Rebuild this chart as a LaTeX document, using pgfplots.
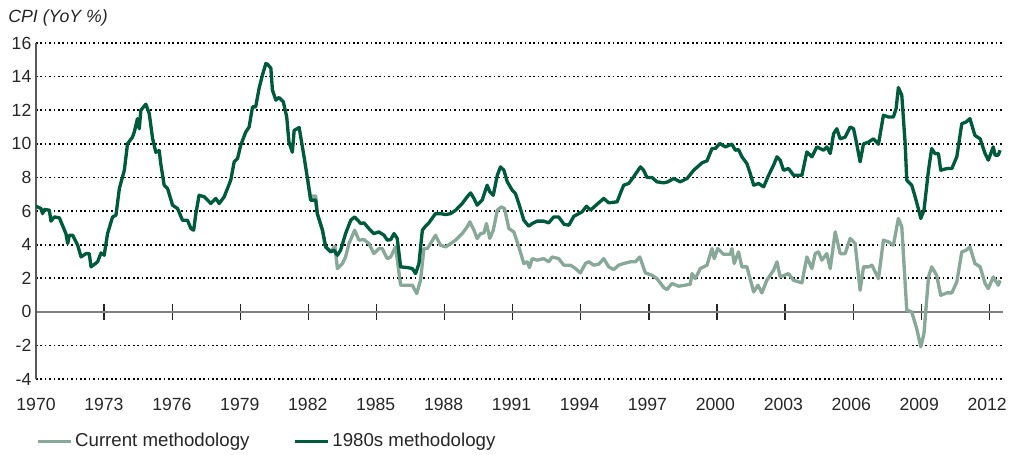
\documentclass[border=0pt]{standalone}
\usepackage{pgfplots}
\pgfplotsset{compat=1.18}
\usepackage{fontspec}
\setmainfont{Liberation Sans}
\definecolor{darkgreen}{HTML}{005A3C}
\definecolor{lightgreen}{HTML}{88A89A}

\begin{document}
\begin{tikzpicture}
\useasboundingbox (-27pt,-56.25pt) rectangle (735.5pt,284.25pt);
% zero line with crossing ticks
\begin{axis}[
  at={(0,0)}, anchor=south west, scale only axis,
  width=725pt, height=252pt,
  xmin=1970, xmax=2012.6, ymin=-4, ymax=16,
  axis x line=middle, axis y line=none,
  x axis line style={-, draw=black!50, line width=1.3pt},
  xtick={1973,1976,...,2012}, xticklabels={},
  tick align=center, major tick length=11.5pt,
  xtick style={draw=black!85, line width=1pt},
]
\end{axis}
\begin{axis}[
  at={(0,0)}, anchor=south west, scale only axis,
  width=725pt, height=252pt,
  xmin=1970, xmax=2012.7, ymin=-4, ymax=16,
  axis x line*=bottom, axis y line*=left,
  x axis line style={draw=none},
  y axis line style={-, draw=black!65, line width=0.9pt},
  xtick={1970,1973,...,2012},
  ytick={-4,-2,2,4,6,8,10,12,14,16},
  extra y ticks={0}, extra y tick style={grid=none},
  tick style={draw=none},
  ymajorgrids,
  grid style={black, line width=1.25pt, dash pattern=on 1.25pt off 2.05pt},
  /pgf/number format/assume math mode=true,
  /pgf/number format/1000 sep={},
  ticklabel style={font=\fontsize{13.2}{15}\selectfont, text=black!85},
  xticklabel style={yshift=-10.5pt},
  legend columns=2,
  legend style={at={(0,-0.1845)}, anchor=west, draw=none, fill=none,
    inner sep=0pt, font=\fontsize{14}{16}\selectfont, text=black!85,
    /tikz/every even column/.append style={column sep=31pt}},
  legend cell align=left,
  legend image code/.code={\draw[#1, line width=2.4pt] (0pt,0pt) -- (24.75pt,0pt);},
]
\addplot[lightgreen, line width=2.5pt, line join=round] coordinates {
(1981.98,8.0) (1982.13,6.65) (1982.2,6.9) (1982.35,6.9) (1982.42,5.85) (1982.65,4.86)
(1982.79,3.87) (1983.01,3.6) (1983.2,3.9) (1983.31,2.58) (1983.53,2.88) (1983.67,3.27)
(1983.82,4.07) (1984.07,4.86) (1984.26,4.27) (1984.48,4.3) (1984.70,4.07) (1984.92,3.47)
(1985.14,3.77) (1985.29,3.77) (1985.51,3.17) (1985.66,3.27) (1985.88,3.87) (1986.10,1.59)
(1986.39,1.59) (1986.62,1.59) (1986.81,1.09) (1986.98,1.88) (1987.13,3.77) (1987.28,3.77)
(1987.42,4.07) (1987.64,4.56) (1987.86,3.97) (1988.09,3.87) (1988.31,4.07) (1988.53,4.27)
(1988.82,4.66) (1989.04,5.06) (1989.16,5.36) (1989.34,4.86) (1989.48,4.37) (1989.63,4.66)
(1989.78,4.7) (1989.89,5.26) (1990.04,4.37) (1990.19,4.86) (1990.37,6.05) (1990.54,6.25)
(1990.69,6.15) (1990.88,4.96) (1991.10,4.76) (1991.32,3.87) (1991.54,2.88) (1991.69,2.98)
(1991.79,2.64) (1991.91,3.17) (1992.13,3.08) (1992.42,3.17) (1992.64,2.98) (1992.79,3.27)
(1993.08,3.17) (1993.31,2.78) (1993.60,2.78) (1993.82,2.58) (1994.04,2.32) (1994.26,2.88)
(1994.41,2.98) (1994.63,2.78) (1994.85,2.84) (1995.07,3.17) (1995.29,2.68) (1995.51,2.52)
(1995.73,2.78) (1995.95,2.88) (1996.25,2.98) (1996.47,2.98) (1996.66,3.27) (1996.91,2.32)
(1997.20,2.18) (1997.42,1.98) (1997.72,1.45) (1997.86,1.33) (1998.08,1.69) (1998.38,1.53)
(1998.67,1.59) (1998.89,1.65) (1998.97,2.28) (1999.11,1.98) (1999.33,2.58) (1999.63,2.78)
(1999.85,3.77) (1999.95,3.17) (2000.10,3.77) (2000.36,3.43) (2000.66,3.43) (2000.73,3.77)
(2000.83,2.88) (2001.02,3.57) (2001.17,2.68) (2001.39,2.68) (2001.69,1.19) (2001.88,1.59)
(2002.05,1.13) (2002.27,1.88) (2002.57,2.48) (2002.72,2.98) (2002.86,2.08) (2003.23,2.28)
(2003.45,1.88) (2003.82,1.73) (2004.04,3.27) (2004.26,2.58) (2004.41,3.47) (2004.55,3.57)
(2004.70,3.08) (2004.92,3.47) (2005.07,2.58) (2005.29,4.76) (2005.51,3.47) (2005.73,3.47)
(2005.95,4.37) (2006.17,4.07) (2006.39,1.29) (2006.54,2.68) (2006.76,2.68) (2006.91,2.78)
(2007.20,1.98) (2007.42,4.27) (2007.64,4.17) (2007.86,3.97) (2008.08,5.56) (2008.23,5.06)
(2008.45,0.1) (2008.67,0.0) (2008.89,-1.0) (2009.07,-2.08) (2009.21,-1.29) (2009.41,2.08)
(2009.55,2.68) (2009.77,2.18) (2009.95,0.99) (2010.22,1.13) (2010.44,1.13) (2010.66,1.79)
(2010.88,3.57) (2011.07,3.67) (2011.24,3.87) (2011.46,2.88) (2011.69,2.68) (2011.91,1.69)
(2012.05,1.39) (2012.27,2.08) (2012.49,1.59) (2012.57,1.88)
};
\addlegendentry{Current methodology}
\addplot[darkgreen, line width=2.5pt, line join=round] coordinates {
(1970.00,6.29) (1970.22,6.15) (1970.29,5.85) (1970.37,6.1) (1970.59,6.05) (1970.66,5.4)
(1970.81,5.65) (1971.03,5.6) (1971.32,4.66) (1971.40,4.07) (1971.47,4.56) (1971.62,4.56)
(1971.84,3.97) (1971.99,3.27) (1972.21,3.47) (1972.35,3.47) (1972.43,2.68) (1972.72,2.98)
(1972.87,3.51) (1973.01,3.37) (1973.16,4.66) (1973.38,5.65) (1973.53,5.75) (1973.68,7.34)
(1973.90,8.43) (1974.04,10.0) (1974.26,10.4) (1974.34,10.7) (1974.48,11.5) (1974.56,10.9)
(1974.63,12.0) (1974.85,12.36) (1975.00,11.8) (1975.15,10.3) (1975.29,9.5) (1975.44,9.6)
(1975.51,8.8) (1975.66,7.54) (1975.81,7.34) (1976.03,6.35) (1976.25,6.15) (1976.47,5.45)
(1976.69,5.45) (1976.84,4.96) (1976.96,4.86) (1977.06,5.85) (1977.20,6.94) (1977.43,6.85)
(1977.72,6.45) (1977.94,6.75) (1978.09,6.45) (1978.31,6.85) (1978.60,7.84) (1978.75,8.93)
(1978.90,9.13) (1979.04,9.92) (1979.26,10.7) (1979.41,11.0) (1979.56,12.2) (1979.70,12.2)
(1979.85,13.3) (1980.00,14.1) (1980.15,14.78) (1980.22,14.74) (1980.37,14.5) (1980.44,13.2)
(1980.59,12.6) (1980.73,12.76) (1980.92,12.5) (1981.07,11.6) (1981.17,10.1) (1981.32,9.5)
(1981.40,10.8) (1981.62,10.97) (1981.84,9.2) (1981.98,8.0) (1982.13,6.65) (1982.35,6.65)
(1982.42,5.85) (1982.65,4.86) (1982.79,3.87) (1983.01,3.57) (1983.16,3.67) (1983.31,3.37)
(1983.45,3.67) (1983.67,4.66) (1983.90,5.46) (1984.07,5.65) (1984.34,5.26) (1984.48,5.3)
(1984.70,4.96) (1984.92,4.66) (1985.14,4.76) (1985.37,4.56) (1985.51,4.27) (1985.66,4.3)
(1985.81,4.66) (1985.95,4.37) (1986.10,2.68) (1986.39,2.64) (1986.62,2.58) (1986.76,2.28)
(1986.91,2.88) (1987.06,4.86) (1987.20,5.1) (1987.35,5.3) (1987.64,5.85) (1987.86,5.85)
(1988.09,5.79) (1988.31,5.85) (1988.53,6.05) (1988.82,6.45) (1989.04,6.85) (1989.19,7.08)
(1989.34,6.75) (1989.48,6.35) (1989.70,6.65) (1989.92,7.54) (1990.04,7.14) (1990.19,6.94)
(1990.37,8.13) (1990.51,8.63) (1990.66,8.43) (1990.81,7.74) (1991.03,7.24) (1991.17,7.04)
(1991.32,6.45) (1991.54,5.46) (1991.76,5.1) (1991.91,5.26) (1992.13,5.4) (1992.42,5.4)
(1992.64,5.3) (1992.86,5.65) (1993.08,5.65) (1993.31,5.22) (1993.53,5.16) (1993.75,5.69)
(1993.97,5.85) (1994.11,5.95) (1994.31,6.29) (1994.48,6.05) (1994.78,6.41) (1995.07,6.75)
(1995.29,6.49) (1995.66,6.55) (1995.80,7.04) (1995.95,7.54) (1996.17,7.64) (1996.39,8.04)
(1996.69,8.63) (1996.83,8.43) (1996.98,8.0) (1997.20,8.0) (1997.42,7.74) (1997.72,7.68)
(1997.90,7.74) (1998.16,7.94) (1998.45,7.74) (1998.75,7.94) (1999.04,8.43) (1999.41,8.87)
(1999.63,8.99) (1999.85,9.72) (2000.00,9.72) (2000.19,10.02) (2000.44,9.82) (2000.73,9.98)
(2000.88,9.62) (2001.02,9.66) (2001.17,9.23) (2001.39,8.83) (2001.54,8.23) (2001.69,7.54)
(2001.91,7.64) (2002.13,7.44) (2002.35,8.13) (2002.57,8.73) (2002.72,9.23) (2002.86,9.03)
(2003.01,8.43) (2003.23,8.53) (2003.45,8.13) (2003.82,8.13) (2004.04,9.52) (2004.26,9.23)
(2004.48,9.82) (2004.63,9.72) (2004.77,9.62) (2004.92,9.82) (2005.07,9.42) (2005.22,10.6)
(2005.36,10.9) (2005.51,10.3) (2005.73,10.4) (2005.95,11.0) (2006.10,10.9) (2006.24,10.0)
(2006.39,8.93) (2006.54,10.0) (2006.76,10.1) (2006.98,10.3) (2007.20,9.98) (2007.42,11.7)
(2007.64,11.6) (2007.86,11.6) (2007.98,12.1) (2008.08,13.35) (2008.23,12.9) (2008.38,10.0)
(2008.45,7.84) (2008.67,7.54) (2008.82,6.85) (2008.96,6.15) (2009.07,5.56) (2009.21,6.05)
(2009.41,8.43) (2009.55,9.72) (2009.70,9.42) (2009.85,9.42) (2009.95,8.43) (2010.22,8.53)
(2010.44,8.53) (2010.66,9.23) (2010.88,11.2) (2011.07,11.3) (2011.24,11.5) (2011.46,10.5)
(2011.69,10.3) (2011.91,9.42) (2012.05,9.03) (2012.27,9.82) (2012.35,9.33) (2012.49,9.33)
(2012.57,9.62)
};
\addlegendentry{1980s methodology}
\end{axis}
\node[anchor=base west, inner sep=0pt, text=black!85, font=\fontsize{13.3}{16}\selectfont\itshape] at (-21pt,267.2pt) {CPI (YoY \%)};
\end{tikzpicture}
\end{document}
